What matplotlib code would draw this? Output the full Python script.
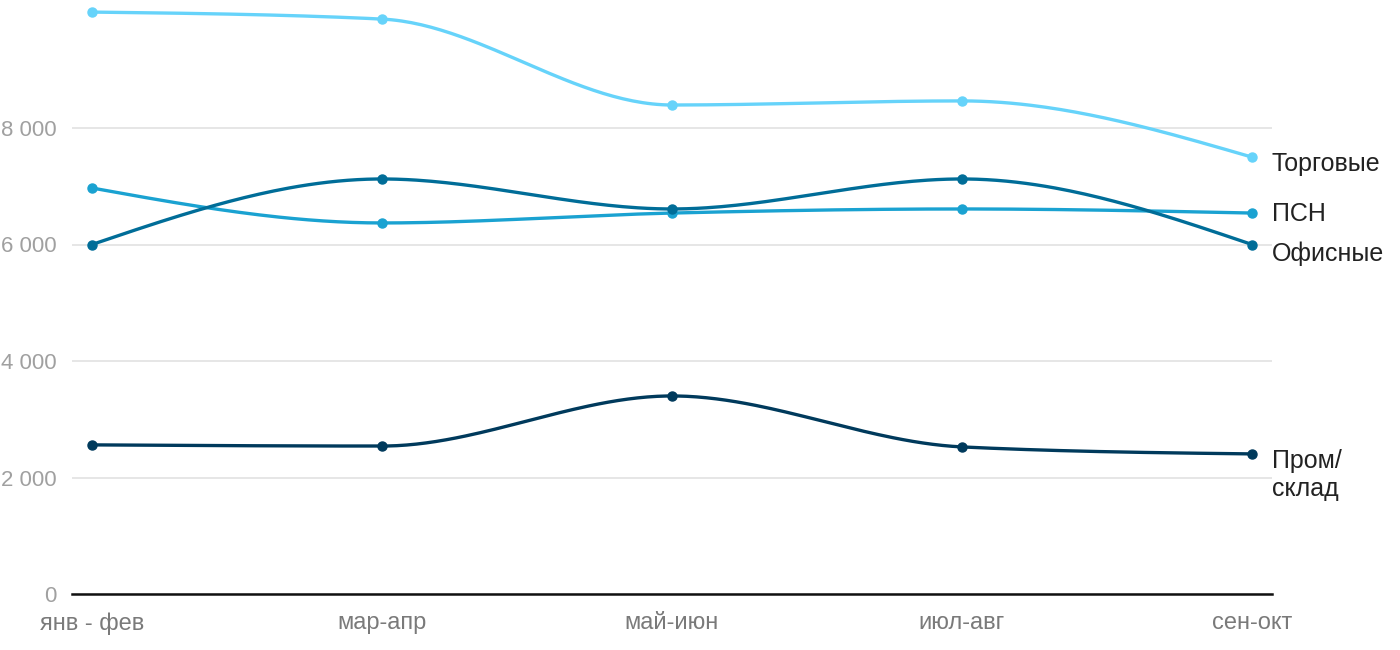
import numpy as np
import matplotlib.pyplot as plt
from matplotlib.ticker import FuncFormatter

plt.rcParams['font.family'] = ['Liberation Sans', 'DejaVu Sans']

# data
periods = ['янв - фев', 'мар-апр', 'май-июн', 'июл-авг', 'сен-окт']
torg = [9990, 9870, 8395, 8465, 7500]
psn = [6970, 6370, 6540, 6610, 6540]
ofis = [6000, 7125, 6610, 7125, 6000]
prom = [2560, 2540, 3400, 2525, 2405]

names = ['Торговые', 'ПСН', 'Офисные', 'Пром/\nсклад']
colors = ['#66d3fa', '#1aa2d1', '#006d98', '#003a5c']
# label offsets in pixels relative to last point
offsets = [(20, -7), (20, -1), (20, -9), (20, -21)]


def monotone(x, y, n=60):
    # monotone cubic (like d3 curveMonotoneX) just for the line shape
    x = np.asarray(x, float)
    y = np.asarray(y, float)
    h = np.diff(x)
    s = np.diff(y) / h
    m = np.zeros_like(y)
    for i in range(1, len(y) - 1):
        if s[i - 1] * s[i] <= 0:
            m[i] = 0
        else:
            p = (s[i - 1] * h[i] + s[i] * h[i - 1]) / (h[i - 1] + h[i])
            m[i] = (np.sign(s[i - 1]) + np.sign(s[i])) * min(abs(s[i - 1]), abs(s[i]), 0.5 * abs(p))
    m[0] = (3 * s[0] - m[1]) / 2
    m[-1] = (3 * s[-1] - m[-2]) / 2
    if s[0] * m[0] <= 0:
        m[0] = 0
    if s[-1] * m[-1] <= 0:
        m[-1] = 0
    xs, ys = [], []
    for i in range(len(h)):
        t = np.linspace(0, 1, n)
        h00 = 2 * t**3 - 3 * t**2 + 1
        h10 = t**3 - 2 * t**2 + t
        h01 = -2 * t**3 + 3 * t**2
        h11 = t**3 - t**2
        xs.append(x[i] + t * h[i])
        ys.append(h00 * y[i] + h10 * h[i] * m[i] + h01 * y[i + 1] + h11 * h[i] * m[i + 1])
    return np.concatenate(xs), np.concatenate(ys)


fig = plt.figure(figsize=(14, 6.5), dpi=100)
ax = fig.add_axes([72 / 1400, 56 / 650, 1200 / 1400, 582.5 / 650])

x = np.arange(len(periods))
series = [torg, psn, ofis, prom]
for vals, name, col, off in zip(series, names, colors, offsets):
    xs, ys = monotone(x, vals)
    ax.plot(xs, ys, color=col, lw=2.4, solid_capstyle='round', clip_on=False, zorder=3)
    ax.plot(x, vals, 'o', color=col, ms=6.5, clip_on=False, zorder=4)
    ax.annotate(name, (x[-1], vals[-1]), xytext=off, textcoords='offset pixels',
                ha='left', va='center', fontsize=18, color='#222222', linespacing=1.25,
                annotation_clip=False)

ax.set_xlim(-20 / 290, 4 + 20 / 290)
ax.set_ylim(0, 10000)
ax.set_yticks([0, 2000, 4000, 6000, 8000])
ax.yaxis.set_major_formatter(FuncFormatter(lambda v, p: f'{int(v):,}'.replace(',', ' ')))
ax.set_xticks(x)
ax.set_xticklabels(periods)
ax.grid(axis='y', color='#e2e2e2', lw=1.2)
ax.set_axisbelow(True)
for sp in ['top', 'right', 'left']:
    ax.spines[sp].set_visible(False)
ax.spines['bottom'].set_color('#111111')
ax.spines['bottom'].set_linewidth(1.8)
ax.spines['bottom'].set_zorder(2)
ax.tick_params(axis='y', length=0, pad=11, labelsize=16, labelcolor='#a0a0a0')
ax.tick_params(axis='x', length=0, pad=13, labelsize=17, labelcolor='#7a7a7a')

fig.savefig('out.png', dpi=100)
